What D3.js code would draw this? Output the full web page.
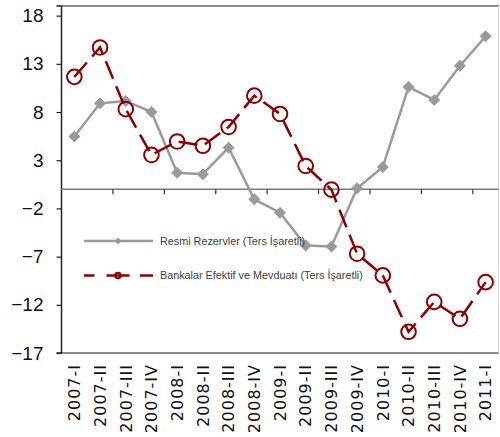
<!DOCTYPE html>
<html><head><meta charset="utf-8">
<script src="https://cdn.jsdelivr.net/npm/d3@7"></script>
<style>body{margin:0;background:#fff}svg{display:block}</style>
</head><body>
<svg id="c" width="500" height="437"></svg>
<script>
const categories = ["2007-I","2007-II","2007-III","2007-IV","2008-I","2008-II","2008-III","2008-IV","2009-I","2009-II","2009-III","2009-IV","2010-I","2010-II","2010-III","2010-IV","2011-I"];
const resmiRezervler = [5.45, 8.9, 9.15, 8.0, 1.7, 1.55, 4.3, -1.05, -2.45, -5.85, -5.95, 0.1, 2.3, 10.6, 9.25, 12.8, 15.85];
const bankalarEfektif = [11.65, 14.7, 8.3, 3.55, 4.95, 4.5, 6.45, 9.7, 7.8, 2.4, -0.05, -6.7, -8.95, -14.8, -11.7, -13.45, -9.65];
const yTicks = [18, 13, 8, 3, -2, -7, -12, -17];
const seriesNames = ["Resmi Rezervler (Ters İşaretli)", "Bankalar Efektif ve Mevduatı (Ters İşaretli)"];

const svg = d3.select("#c");
const L = 61.5, R = 498.5, T = 6, B = 353;
const x = d3.scaleBand().domain(categories).range([L, R]).padding(0);
const y = d3.scaleLinear().domain([-17, 19]).range([B, T]);
const cx = d => x(d) + x.bandwidth() / 2;

// frame
svg.append("line").attr("x1", L).attr("x2", R + 0.5).attr("y1", T).attr("y2", T).attr("stroke", "#8a8a8a").attr("stroke-width", 2.2);
svg.append("line").attr("x1", L).attr("x2", R + 0.5).attr("y1", B).attr("y2", B).attr("stroke", "#8a8a8a").attr("stroke-width", 2.2);
svg.append("line").attr("x1", R).attr("x2", R).attr("y1", T).attr("y2", B).attr("stroke", "#d4d4d4").attr("stroke-width", 1);

// y axis
const yAxis = d3.axisLeft(y).tickValues(yTicks).tickSize(5).tickPadding(13).tickFormat(d3.format("d"));
const ya = svg.append("g").attr("transform", `translate(${L},0)`).call(yAxis);
ya.select(".domain").attr("stroke", "#222").attr("stroke-width", 1.5).attr("d", `M-5,${T}H0V${B}H-5`);
ya.selectAll(".tick line").attr("stroke", "#222").attr("stroke-width", 1.2);
ya.selectAll(".tick text").attr("font-family", "Liberation Sans, Arial, sans-serif").attr("font-size", 19).attr("fill", "#111");

// zero line with category ticks
svg.append("line").attr("x1", L).attr("x2", R).attr("y1", y(0)).attr("y2", y(0)).attr("stroke", "#7a7a7a").attr("stroke-width", 1.5);
svg.append("g").selectAll("line").data(categories.filter((d, i) => i > 0 && i % 2 === 0)).join("line")
  .attr("x1", d => x(d)).attr("x2", d => x(d)).attr("y1", y(0)).attr("y2", y(0) + 5)
  .attr("stroke", "#333").attr("stroke-width", 1.2);

// x labels
svg.append("g").selectAll("text").data(categories).join("text")
  .attr("transform", d => `translate(${cx(d)},364) rotate(-90)`)
  .attr("text-anchor", "end").attr("dy", "0.36em")
  .attr("font-family", "DejaVu Sans, sans-serif").attr("font-size", 16).attr("letter-spacing", 1)
  .attr("fill", "#111").text(d => d);

// gray series
const line = d3.line().x((d, i) => cx(categories[i])).y(d => y(d));
const gray = "#9a9a9a", red = "#8b0000";
svg.append("path").datum(resmiRezervler).attr("d", line).attr("fill", "none").attr("stroke", gray).attr("stroke-width", 2.5);
const diamond = (s) => `M0,${-s}L${s},0L0,${s}L${-s},0Z`;
svg.append("g").selectAll("path").data(resmiRezervler).join("path")
  .attr("transform", (d, i) => `translate(${cx(categories[i])},${y(d)})`)
  .attr("d", diamond(6)).attr("fill", gray);

// red series
svg.append("path").datum(bankalarEfektif).attr("d", line).attr("fill", "none").attr("stroke", red).attr("stroke-width", 2.5).attr("stroke-dasharray", "19,8");
svg.append("g").selectAll("circle").data(bankalarEfektif).join("circle")
  .attr("cx", (d, i) => cx(categories[i])).attr("cy", d => y(d)).attr("r", 7.3)
  .attr("fill", "none").attr("stroke", red).attr("stroke-width", 2);

// legend
const lg = svg.append("g");
lg.append("line").attr("x1", 84).attr("x2", 153).attr("y1", 241).attr("y2", 241).attr("stroke", gray).attr("stroke-width", 2.5);
lg.append("path").attr("transform", "translate(118,241)").attr("d", diamond(3.5)).attr("fill", gray);
lg.append("line").attr("x1", 84).attr("x2", 153).attr("y1", 275.5).attr("y2", 275.5).attr("stroke", red).attr("stroke-width", 2.5).attr("stroke-dasharray", "10.5,12,23,10.5,13");
lg.append("circle").attr("cx", 118).attr("cy", 275.5).attr("r", 2.8).attr("fill", "none").attr("stroke", red).attr("stroke-width", 2);
lg.selectAll("text").data(seriesNames).join("text")
  .attr("x", 160).attr("y", (d, i) => i === 0 ? 241 : 275.5).attr("dy", "0.35em")
  .attr("font-family", "Liberation Sans, Arial, sans-serif").attr("font-size", 10.8).attr("fill", "#404040")
  .text(d => d);
</script>
</body></html>
